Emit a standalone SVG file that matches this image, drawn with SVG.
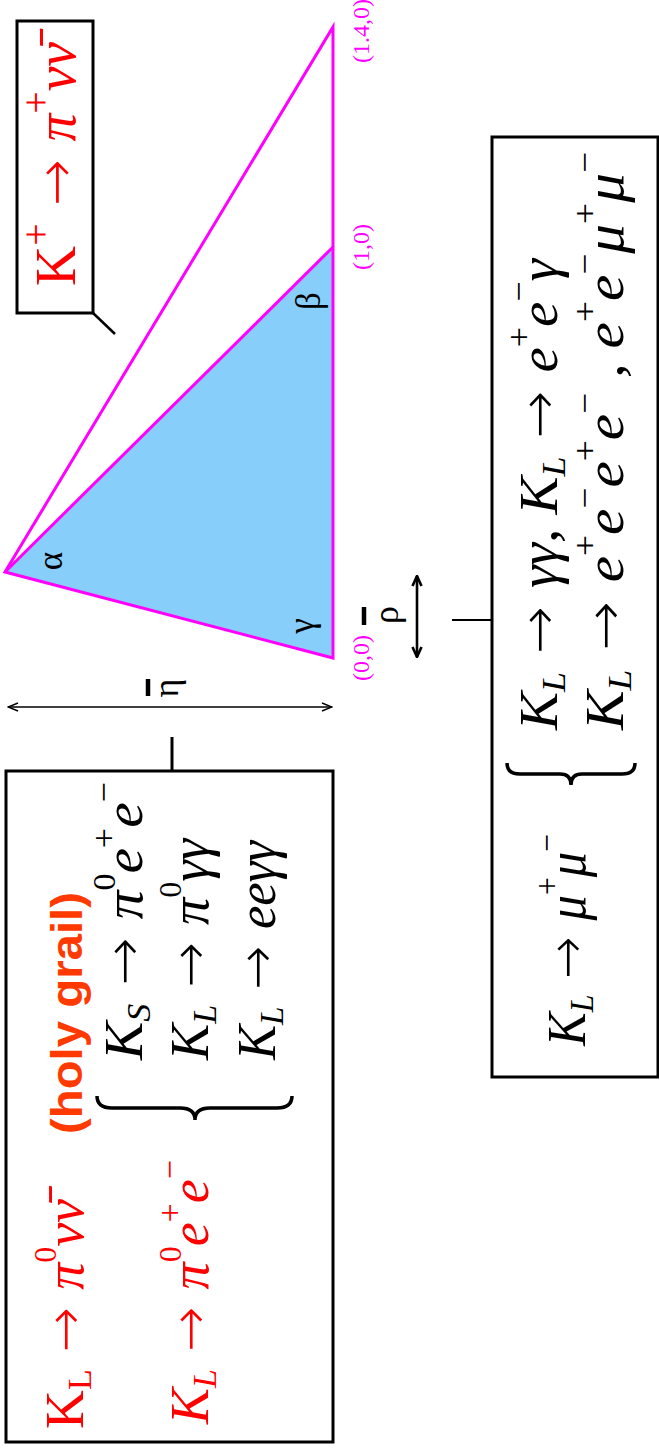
<svg xmlns="http://www.w3.org/2000/svg" width="659" height="1452" viewBox="0 0 659 1452">
<style>
.m{font-family:"Liberation Serif","DejaVu Serif",serif;font-style:italic}
.up{font-style:normal}
.ar{font-family:"DejaVu Sans","Liberation Sans",sans-serif;font-style:normal;font-weight:200}
.red{fill:#ff0000}
.blk{fill:#000}
.box{fill:none;stroke:#000;stroke-width:3}
.mag{stroke:#ff00ff;stroke-width:3;fill:none}
.lbl{font-family:"Liberation Serif","DejaVu Serif",serif;fill:#ff00ff;font-size:24px;text-anchor:middle}
.ang{font-family:"Liberation Serif","DejaVu Serif",serif;fill:#000;font-size:35px;text-anchor:middle}
.ln{stroke:#000;fill:none}
</style>
<defs>
<marker id="ah" viewBox="0 0 12 12" refX="11" refY="6" markerWidth="12" markerHeight="12" markerUnits="userSpaceOnUse" orient="auto-start-reverse"><path d="M1,2 L11,6 L1,10" fill="none" stroke="#000" stroke-width="1.4"/></marker>
<marker id="ahb" viewBox="0 0 12 12" refX="11" refY="6" markerWidth="12" markerHeight="12" markerUnits="userSpaceOnUse" orient="auto-start-reverse"><path d="M1,1.5 L11,6 L1,10.5" fill="none" stroke="#000" stroke-width="2.6"/></marker>
</defs>
<g transform="translate(0,1452) rotate(-90)">
  <g id="triangle">
    <polygon points="880,5 794,333 1205,333" fill="#87cefa" stroke="none"/>
    <path class="mag" d="M794,333 L880,5 L1425,333 Z"/>
    <path class="mag" d="M880,5 L1205,333"/>
    <text class="ang" x="891" y="62">α</text>
    <text class="ang" x="1151" y="320">β</text>
    <text class="ang" x="826" y="313">γ</text>
    <text class="lbl" x="794" y="369">(0,0)</text>
    <text class="lbl" x="1205" y="369">(1,0)</text>
    <text class="lbl" x="1421" y="369">(1.4,0)</text>
  </g>
  <g id="axis-labels">
    <line x1="756" y1="148" x2="773" y2="148" stroke="#000" stroke-width="4.5"/>
    <text class="m up" x="764" y="178" font-size="36" text-anchor="middle">η</text>
    <line x1="827" y1="364" x2="845" y2="364" stroke="#000" stroke-width="4.5"/>
    <text class="m up" x="837" y="398" font-size="36" text-anchor="middle">ρ</text>
  </g>
  <g id="kplus-box">
    <rect class="box" x="1139" y="17" width="292" height="76" stroke-width="2.5"/>
    <text class="m red" x="1166" y="75" font-size="56" textLength="244" lengthAdjust="spacingAndGlyphs"><tspan class="up">K</tspan><tspan class="up" font-size="40" dy="-26">+</tspan><tspan class="ar" dy="26"> → </tspan>π<tspan class="up" font-size="40" dy="-26">+</tspan><tspan dy="26">νν̄</tspan></text>
  </g>
  <g id="left-box">
    <rect class="box" x="10" y="6" width="671" height="327"/>
    <text class="m red" x="23" y="83" font-size="54" textLength="230" lengthAdjust="spacingAndGlyphs"><tspan class="up">K</tspan><tspan class="up" font-size="34" dy="8">L</tspan><tspan class="ar" dy="-8"> → </tspan>π<tspan class="up" font-size="32" dy="-27">0</tspan><tspan dy="27">νν̄</tspan></text>
    <text class="m red" x="28" y="208" font-size="54" textLength="264" lengthAdjust="spacingAndGlyphs">K<tspan font-size="34" dy="8">L</tspan><tspan class="ar" dy="-8"> → </tspan>π<tspan class="up" font-size="32" dy="-27">0</tspan><tspan dy="27">e</tspan><tspan class="up" font-size="34" dy="-27">+</tspan><tspan dy="27">e</tspan><tspan class="up" font-size="34" dy="-27">−</tspan></text>
    <text x="318" y="82" font-family="Liberation Sans, Arial, sans-serif" font-weight="bold" font-size="44" fill="#ff3a00" textLength="242" lengthAdjust="spacingAndGlyphs">(holy grail)</text>
    <path d="M356,97 Q344,97 344,112 L344,180 Q344,195 332,195 Q344,195 344,210 L344,277 Q344,292 356,292" fill="none" stroke="#000" stroke-width="3.5"/>
    <text class="m blk" x="392" y="142" font-size="54" textLength="278" lengthAdjust="spacingAndGlyphs">K<tspan font-size="34" dy="8">S</tspan><tspan class="ar" dy="-8"> → </tspan>π<tspan class="up" font-size="32" dy="-27">0</tspan><tspan dy="27">e</tspan><tspan class="up" font-size="34" dy="-27">+</tspan><tspan dy="27">e</tspan><tspan class="up" font-size="34" dy="-27">−</tspan></text>
    <text class="m blk" x="392" y="208" font-size="54" textLength="221" lengthAdjust="spacingAndGlyphs">K<tspan font-size="34" dy="8">L</tspan><tspan class="ar" dy="-8"> → </tspan>π<tspan class="up" font-size="32" dy="-27">0</tspan><tspan dy="27">γγ</tspan></text>
    <text class="m blk" x="392" y="275" font-size="54" textLength="219" lengthAdjust="spacingAndGlyphs">K<tspan font-size="34" dy="8">L</tspan><tspan class="ar" dy="-8"> → </tspan>eeγγ</text>
  </g>
  <g id="bottom-box">
    <rect class="box" x="375" y="492" width="940" height="166"/>
    <text class="m blk" x="406" y="585" font-size="54" textLength="212" lengthAdjust="spacingAndGlyphs">K<tspan font-size="34" dy="8">L</tspan><tspan class="ar" dy="-8"> → </tspan>μ<tspan class="up" font-size="34" dy="-27">+</tspan><tspan dy="27">μ</tspan><tspan class="up" font-size="34" dy="-27">−</tspan></text>
    <path d="M689,507 Q678,507 678,520 L678,560 Q678,571 667,571 Q678,571 678,582 L678,622 Q678,635 689,635" fill="none" stroke="#000" stroke-width="3.5"/>
    <text class="m blk" x="722" y="557" font-size="54" textLength="471" lengthAdjust="spacingAndGlyphs">K<tspan font-size="34" dy="8">L</tspan><tspan class="ar" dy="-8"> → </tspan>γγ, K<tspan font-size="34" dy="8">L</tspan><tspan class="ar" dy="-8"> → </tspan>e<tspan class="up" font-size="34" dy="-27">+</tspan><tspan dy="27">e</tspan><tspan class="up" font-size="34" dy="-27">−</tspan><tspan dy="27">γ</tspan></text>
    <text class="m blk" x="722" y="623" font-size="54" textLength="578" lengthAdjust="spacingAndGlyphs">K<tspan font-size="34" dy="8">L</tspan><tspan class="ar" dy="-8"> → </tspan>e<tspan class="up" font-size="34" dy="-27">+</tspan><tspan dy="27">e</tspan><tspan class="up" font-size="34" dy="-27">−</tspan><tspan dy="27">e</tspan><tspan class="up" font-size="34" dy="-27">+</tspan><tspan dy="27">e</tspan><tspan class="up" font-size="34" dy="-27">−</tspan><tspan dy="27"> , e</tspan><tspan class="up" font-size="34" dy="-27">+</tspan><tspan dy="27">e</tspan><tspan class="up" font-size="34" dy="-27">−</tspan><tspan dy="27">μ</tspan><tspan class="up" font-size="34" dy="-27">+</tspan><tspan dy="27">μ</tspan><tspan class="up" font-size="34" dy="-27">−</tspan></text>
  </g>
  <g id="connectors">
    <line class="ln" x1="1139" y1="93" x2="1118" y2="115" stroke-width="2.5"/>
    <line class="ln" x1="681" y1="172" x2="715" y2="172" stroke-width="3"/>
    <line class="ln" x1="832" y1="452" x2="832" y2="492" stroke-width="2"/>
    <line class="ln" x1="745" y1="8" x2="745" y2="332" stroke-width="1.4" marker-start="url(#ah)" marker-end="url(#ah)"/>
    <line class="ln" x1="795" y1="417" x2="876" y2="417" stroke-width="2.6" marker-start="url(#ahb)" marker-end="url(#ahb)"/>
  </g>
</g>
</svg>
